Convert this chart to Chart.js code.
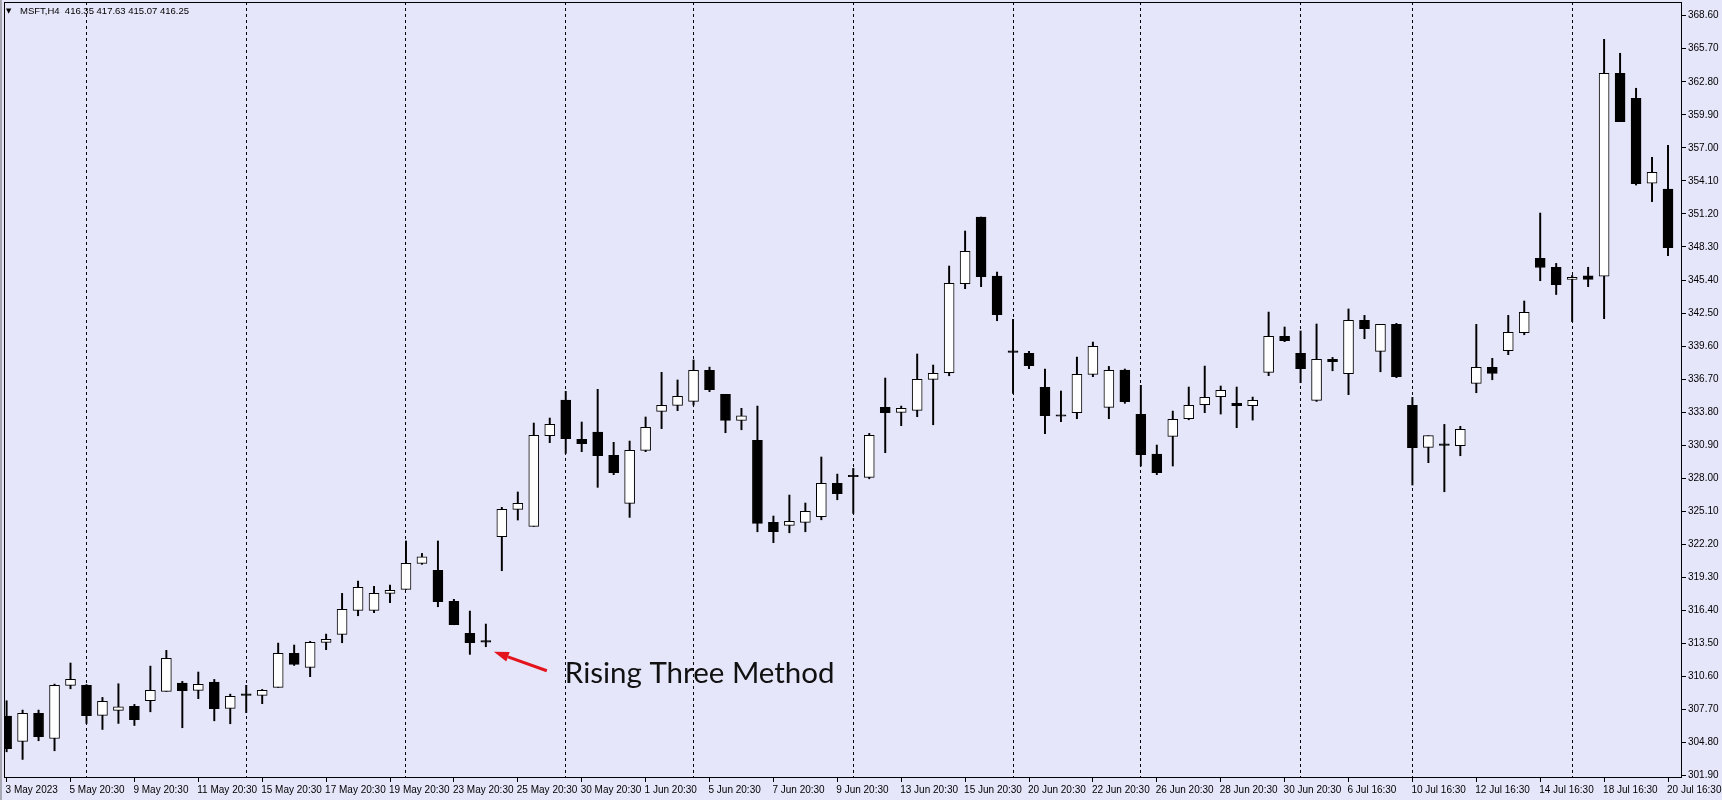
<!DOCTYPE html>
<html>
<head>
<meta charset="utf-8">
<script src="https://cdn.jsdelivr.net/npm/chart.js@4.4.0/dist/chart.umd.min.js"></script>
<style>
  html, body { margin: 0; padding: 0; background: #e6e6fa; }
  #wrap { width: 1722px; height: 800px; }
</style>
</head>
<body>
<div id="wrap"><canvas id="candles" width="1722" height="800"></canvas></div>
<script>
// MSFT H4 bars, 3 May 2023 20:30 .. 20 Jul 2023 16:30 (one entry per bar)
const openP = [
  307.13, 304.91, 307.37, 305.17, 309.83, 309.83, 307.19, 307.63, 307.98, 308.48,
  309.30, 310.03, 309.39, 310.12, 307.81, 308.95, 308.95, 309.65, 312.63, 311.41,
  313.60, 314.30, 316.41, 316.41, 317.90, 318.25, 320.54, 319.92, 317.20, 314.39,
  313.63, 322.88, 325.28, 323.78, 331.74, 334.87, 331.42, 332.06, 330.02, 325.80,
  330.45, 333.88, 334.40, 334.75, 337.47, 335.37, 333.08, 331.33, 324.13, 323.87,
  324.13, 324.63, 327.55, 328.14, 328.08, 334.22, 333.79, 333.96, 336.68, 337.27,
  345.08, 350.93, 345.75, 339.05, 338.97, 335.98, 333.45, 333.76, 337.12, 334.23,
  337.50, 333.61, 330.13, 331.68, 333.23, 334.46, 335.16, 334.58, 334.37, 337.30,
  340.46, 338.97, 334.84, 338.44, 337.18, 341.86, 339.14, 341.51, 334.40, 330.71,
  330.89, 330.86, 336.33, 337.74, 339.20, 340.78, 347.30, 346.51, 345.46, 345.76,
  345.73, 363.54, 361.35, 353.89, 353.39
];
const highP = [
  308.48, 307.66, 307.66, 309.94, 311.79, 309.90, 308.77, 309.97, 308.16, 311.52,
  312.90, 310.18, 311.00, 310.35, 309.06, 309.83, 309.47, 313.54, 313.37, 313.69,
  314.33, 317.90, 318.98, 318.52, 318.63, 322.50, 321.41, 322.50, 317.38, 316.35,
  315.21, 325.45, 326.80, 332.85, 333.29, 335.63, 332.94, 335.81, 331.16, 331.27,
  333.38, 337.30, 336.63, 338.38, 337.76, 335.37, 334.14, 334.34, 324.69, 326.53,
  325.83, 329.87, 328.37, 328.87, 331.94, 336.80, 334.34, 338.91, 337.94, 346.63,
  349.70, 350.93, 346.10, 341.95, 339.14, 337.59, 335.66, 338.64, 339.96, 337.82,
  337.59, 336.16, 330.92, 333.90, 336.01, 337.85, 336.10, 336.01, 335.13, 342.59,
  341.28, 340.93, 341.54, 338.61, 342.86, 342.30, 341.51, 341.60, 335.10, 331.74,
  332.73, 332.56, 341.51, 338.53, 342.30, 343.56, 351.28, 346.86, 345.80, 346.52,
  366.53, 365.30, 362.23, 356.17, 357.22
];
const lowP = [
  304.00, 303.33, 304.97, 304.09, 309.53, 306.49, 305.96, 306.49, 306.31, 307.51,
  309.30, 306.11, 308.66, 306.72, 306.46, 307.43, 308.22, 309.65, 311.58, 310.59,
  312.96, 313.57, 315.94, 316.21, 317.08, 318.25, 320.45, 316.73, 315.15, 312.55,
  313.22, 319.89, 324.34, 323.78, 331.13, 330.19, 330.34, 327.21, 328.32, 324.57,
  330.34, 332.36, 333.94, 334.43, 335.60, 332.00, 332.26, 323.31, 322.35, 323.22,
  323.31, 324.36, 326.12, 324.92, 327.96, 330.25, 332.62, 333.41, 332.70, 337.00,
  344.64, 344.82, 341.83, 335.45, 337.62, 331.91, 332.97, 333.23, 336.92, 333.23,
  334.58, 329.08, 328.32, 329.08, 333.14, 333.76, 333.64, 332.44, 333.11, 337.01,
  339.99, 336.39, 334.75, 337.44, 335.34, 340.25, 337.35, 336.83, 327.41, 329.37,
  326.82, 329.98, 335.51, 336.65, 338.85, 340.60, 345.34, 344.13, 341.75, 344.82,
  342.01, 359.30, 353.74, 352.28, 347.54
];
const closeP = [
  304.27, 307.37, 305.32, 309.83, 310.35, 307.16, 308.42, 307.95, 306.81, 309.39,
  312.20, 309.36, 309.91, 307.78, 308.86, 308.95, 309.39, 312.63, 311.67, 313.60,
  313.86, 316.50, 318.43, 317.90, 318.17, 320.54, 321.12, 317.17, 315.15, 313.57,
  313.63, 325.28, 325.80, 331.77, 332.74, 331.48, 331.04, 329.99, 328.49, 330.45,
  332.47, 334.40, 335.19, 337.47, 335.78, 333.08, 333.49, 324.04, 323.31, 324.22,
  325.10, 327.55, 326.65, 328.14, 331.77, 333.76, 334.14, 336.68, 337.21, 345.11,
  347.92, 345.69, 342.36, 339.05, 337.88, 333.49, 333.45, 337.12, 339.58, 337.47,
  334.72, 330.07, 328.49, 333.17, 334.40, 335.10, 335.72, 334.37, 334.84, 340.46,
  340.08, 337.62, 338.44, 338.23, 341.86, 341.13, 341.51, 336.92, 330.68, 331.74,
  330.89, 332.29, 337.74, 337.21, 340.81, 342.56, 346.50, 345.00, 345.64, 345.46,
  363.54, 359.30, 353.86, 354.85, 348.24
];

// time axis: a label every 4th bar, week separators at the first bar of each week
const xLabelAt = [0, 4, 8, 12, 16, 20, 24, 28, 32, 36, 40, 44, 48, 52, 56, 60, 64, 68, 72, 76, 80, 84, 88, 92, 96, 100, 104];
const xLabels = [
  '3 May 2023', '5 May 20:30', '9 May 20:30', '11 May 20:30', '15 May 20:30', '17 May 20:30',
  '19 May 20:30', '23 May 20:30', '25 May 20:30', '30 May 20:30', '1 Jun 20:30', '5 Jun 20:30',
  '7 Jun 20:30', '9 Jun 20:30', '13 Jun 20:30', '15 Jun 20:30', '20 Jun 20:30', '22 Jun 20:30',
  '26 Jun 20:30', '28 Jun 20:30', '30 Jun 20:30', '6 Jul 16:30', '10 Jul 16:30', '12 Jul 16:30',
  '14 Jul 16:30', '18 Jul 16:30', '20 Jul 16:30'
];
const weekStarts = [5, 15, 25, 35, 43, 53, 63, 71, 81, 88, 98];
const yTicks = [
  301.90, 304.80, 307.70, 310.60, 313.50, 316.40, 319.30, 322.20, 325.10, 328.00, 330.90, 333.80,
  336.70, 339.60, 342.50, 345.40, 348.30, 351.20, 354.10, 357.00, 359.90, 362.80, 365.70, 368.60
];

const titleText = 'MSFT,H4  416.35 417.63 415.07 416.25';
const noteText = 'Rising Three Method';
const noteBar = 30;

const X_MIN = -0.163, X_MAX = 104.876;
const axisFont = { family: "'Liberation Sans', Arial, sans-serif", size: 10 };

const bodies = openP.map((o, i) => ({ x: i, y: [o, closeP[i]] }));
const wicks = lowP.map((l, i) => ({ x: i, y: [l, highP[i]] }));

// background, frame, title line and the annotation
const chrome = {
  id: 'chrome',
  beforeDraw(chart) {
    const c = chart.ctx;
    c.save();
    c.fillStyle = '#e6e6fa';
    c.fillRect(0, 0, chart.width, chart.height);
    c.fillStyle = '#a8a8b4';
    c.fillRect(0, 0, 2, chart.height);
    c.restore();
  },
  afterDatasetsDraw(chart) {
    const c = chart.ctx;
    const a = chart.chartArea;
    const xs = chart.scales.x, ys = chart.scales.y;
    c.save();
    c.strokeStyle = '#000';
    c.lineWidth = 1;
    c.strokeRect(Math.round(a.left) + 0.5, Math.round(a.top) + 0.5,
      Math.round(a.right - a.left) - 1, Math.round(a.bottom - a.top) - 1);

    // title
    c.fillStyle = '#000';
    c.textBaseline = 'middle';
    c.font = "7px 'DejaVu Sans'";
    c.fillText('\u25BC', 6, 11);
    c.font = "9.5px 'Liberation Sans', Arial, sans-serif";
    c.fillText(titleText, 20, 11);

    // arrow + note next to the last small bar
    const bx = xs.getPixelForValue(noteBar);
    const by = ys.getPixelForValue(lowP[noteBar]);
    const hx = bx + 8, hy = by + 5, tx = bx + 61, ty = by + 24;
    const ang = Math.atan2(hy - ty, hx - tx);
    const len = 15, half = 5;
    const baseX = hx - len * Math.cos(ang), baseY = hy - len * Math.sin(ang);
    c.strokeStyle = '#e3141c';
    c.fillStyle = '#e3141c';
    c.lineWidth = 3;
    c.beginPath();
    c.moveTo(tx, ty);
    c.lineTo(baseX, baseY);
    c.stroke();
    c.beginPath();
    c.moveTo(hx, hy);
    c.lineTo(baseX + half * Math.sin(ang), baseY - half * Math.cos(ang));
    c.lineTo(baseX - half * Math.sin(ang), baseY + half * Math.cos(ang));
    c.closePath();
    c.fill();

    c.fillStyle = '#111';
    c.textBaseline = 'alphabetic';
    c.font = "29.5px Lato, 'Open Sans', sans-serif";
    c.fillText(noteText, bx + 79, by + 36);
    c.restore();
  }
};

const ctx = document.getElementById('candles').getContext('2d');

new Chart(ctx, {
  type: 'bar',
  data: {
    datasets: [
      {
        data: bodies,
        xAxisID: 'x', yAxisID: 'y',
        order: 0,
        grouped: false,
        barThickness: 10,
        minBarLength: 1.5,
        borderWidth: 1,
        borderColor: '#000',
        borderSkipped: false,
        backgroundColor: c => closeP[c.dataIndex] > openP[c.dataIndex] ? '#ffffff' : '#000000'
      },
      {
        data: wicks,
        xAxisID: 'x', yAxisID: 'y',
        order: 1,
        grouped: false,
        barThickness: 1.3,
        borderWidth: 0,
        backgroundColor: '#000'
      }
    ]
  },
  options: {
    responsive: false,
    devicePixelRatio: 1,
    animation: false,
    layout: { padding: { top: 2, left: 4, right: 0, bottom: 0 }, autoPadding: false },
    plugins: { legend: { display: false }, tooltip: { enabled: false } },
    scales: {
      x: {
        type: 'linear', position: 'bottom', min: X_MIN, max: X_MAX, offset: false,
        afterBuildTicks: s => { s.ticks = xLabelAt.map(v => ({ value: v })); },
        afterFit: s => { s.height = 22; s.paddingLeft = 0; s.paddingRight = 0; },
        ticks: {
          autoSkip: false, maxRotation: 0, minRotation: 0, align: 'start',
          labelOffset: -1, padding: 2, color: '#000', font: axisFont,
          callback: (v, i) => xLabels[i]
        },
        grid: { offset: false, drawOnChartArea: false, drawTicks: true, tickLength: 4, color: '#000', lineWidth: 1 },
        border: { display: false }
      },
      weeks: {
        type: 'linear', position: 'top', min: X_MIN, max: X_MAX, offset: false,
        afterBuildTicks: s => { s.ticks = weekStarts.map(v => ({ value: v })); },
        afterFit: s => { s.height = 0; s.paddingLeft = 0; s.paddingRight = 0; },
        ticks: { display: false },
        grid: { offset: false, drawOnChartArea: true, drawTicks: false, color: '#000', lineWidth: 1, borderDash: [3, 3] },
        border: { display: false, dash: [3, 3] }
      },
      y: {
        type: 'linear', position: 'right', min: 301.7, max: 369.8,
        afterBuildTicks: s => { s.ticks = yTicks.map(v => ({ value: v })); },
        afterFit: s => { s.width = 40; s.paddingTop = 0; s.paddingBottom = 0; },
        ticks: { padding: 2, color: '#000', font: axisFont, callback: v => v.toFixed(2) },
        grid: { drawOnChartArea: false, drawTicks: true, tickLength: 4, color: '#000', lineWidth: 1 },
        border: { display: false }
      }
    }
  },
  plugins: [chrome]
});
</script>
</body>
</html>
